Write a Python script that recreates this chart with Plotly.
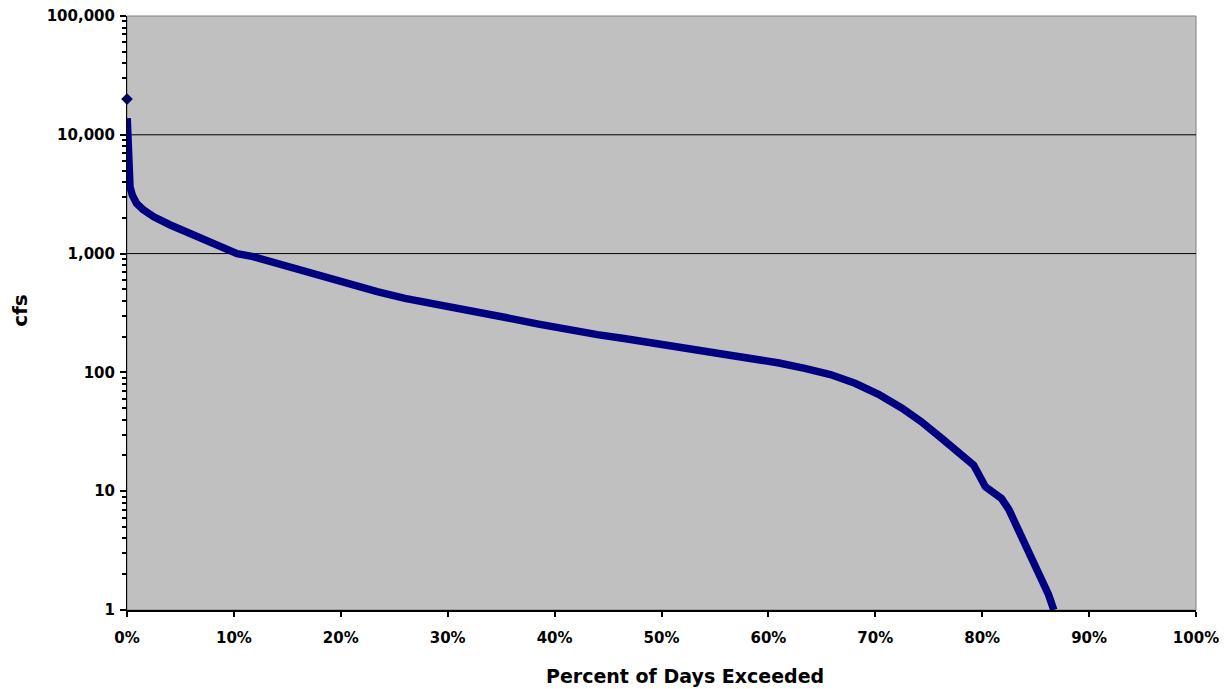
import plotly.graph_objects as go

# Flow-duration data
pct_exceeded = [0.00, 0.02, 0.03, 0.05, 0.07, 0.10, 0.13, 0.17, 0.22, 0.28, 0.5, 0.9,
                1.5, 2.5, 4.0, 5.6, 7.0, 8.7, 10.3, 11.8, 13.5, 15.0, 16.5, 18.1, 19.7,
                21.2, 23.4, 26.0, 29.0, 32.0, 35.3, 38.5, 41.5, 44.0, 46.5, 49.5, 52.5,
                55.5, 58.7, 61.0, 63.4, 65.8, 68.1, 70.3, 72.5, 74.3, 76.2, 78.1, 79.2,
                80.3, 81.0, 81.8, 82.5, 83.1, 83.7, 84.2, 84.9, 85.6, 86.2, 86.7]
cfs = [20000, 13800, 12000, 10500, 9000, 7500, 6000, 5000, 4200, 3660, 3100, 2640,
       2350, 2040, 1750, 1530, 1330, 1167, 1000, 942, 850, 777, 710, 640, 590,
       545, 478, 420, 369, 330, 291, 255, 225, 208, 193, 176, 160,
       145, 131, 120, 108, 96, 81, 65.5, 49.9, 38.5, 27.9, 20.2, 16.6,
       10.9, 9.6, 8.7, 7.0, 5.37, 4.3, 3.5, 2.4, 1.79, 1.35, 1.0]

x_tick_vals = [0, 10, 20, 30, 40, 50, 60, 70, 80, 90, 100]
x_tick_text = ["0%", "10%", "20%", "30%", "40%", "50%", "60%", "70%", "80%", "90%", "100%"]
y_tick_vals = [1, 10, 100, 1000, 10000, 100000]
y_tick_text = ["1", "10", "100", "1,000", "10,000", "100,000"]
grid_values = [1000, 10000]

NAVY = "#000080"
FONT = "DejaVu Sans"

fig = go.Figure()
fig.add_trace(go.Scatter(
    x=pct_exceeded[1:], y=cfs[1:], mode="lines",
    line=dict(color=NAVY, width=7.5), hoverinfo="x+y"))
fig.add_trace(go.Scatter(
    x=pct_exceeded[:1], y=cfs[:1], mode="markers",
    marker=dict(color=NAVY, size=9, symbol="diamond"), cliponaxis=False))

shapes = [dict(type="rect", xref="paper", yref="paper", x0=0, x1=1, y0=0, y1=1,
               line=dict(color="#808080", width=1), layer="below")]
for g in grid_values:
    shapes.append(dict(type="line", xref="paper", yref="y", x0=0, x1=1, y0=g, y1=g,
                       line=dict(color="black", width=1), layer="below"))

# page body has an 8px default margin, so the figure is sized to fit inside the window
fig.update_layout(
    width=1223, height=681,
    margin=dict(l=119, r=35, t=8, b=79, autoexpand=False),
    paper_bgcolor="white", plot_bgcolor="#C0C0C0",
    showlegend=False,
    font=dict(family=FONT, size=15, color="black", weight="bold"),
    shapes=shapes,
    annotations=[
        dict(text="Percent of Days Exceeded", xref="paper", yref="paper",
             x=0.522, y=-0.111, xanchor="center", yanchor="middle", showarrow=False,
             font=dict(family=FONT, size=19, color="black", weight="bold")),
        dict(text="cfs", xref="paper", yref="paper", textangle=-90,
             x=-0.1, y=0.504, xanchor="center", yanchor="middle", showarrow=False,
             font=dict(family=FONT, size=20, color="black", weight="bold")),
    ],
)
fig.update_xaxes(
    range=[0, 100], tickmode="array", tickvals=x_tick_vals, ticktext=x_tick_text,
    ticks="outside", ticklen=5, tickwidth=2, tickcolor="black",
    showline=True, linecolor="black", linewidth=2, automargin=False,
    showgrid=False, zeroline=False, ticklabelstandoff=8, ticklabeloverflow="allow",
    tickfont=dict(family=FONT, size=15, color="black", weight="bold"))
fig.update_yaxes(
    type="log", range=[0, 5], tickmode="array", tickvals=y_tick_vals, ticktext=y_tick_text,
    ticks="outside", ticklen=6, tickwidth=2, tickcolor="black",
    minor=dict(ticks="outside", ticklen=4, tickwidth=2, tickcolor="black",
               dtick="D1", showgrid=False),
    showline=True, linecolor="black", linewidth=1, automargin=False,
    showgrid=False, zeroline=False, ticklabelstandoff=2, ticklabeloverflow="allow",
    tickfont=dict(family=FONT, size=15, color="black", weight="bold"))

fig.write_html("out.html")
